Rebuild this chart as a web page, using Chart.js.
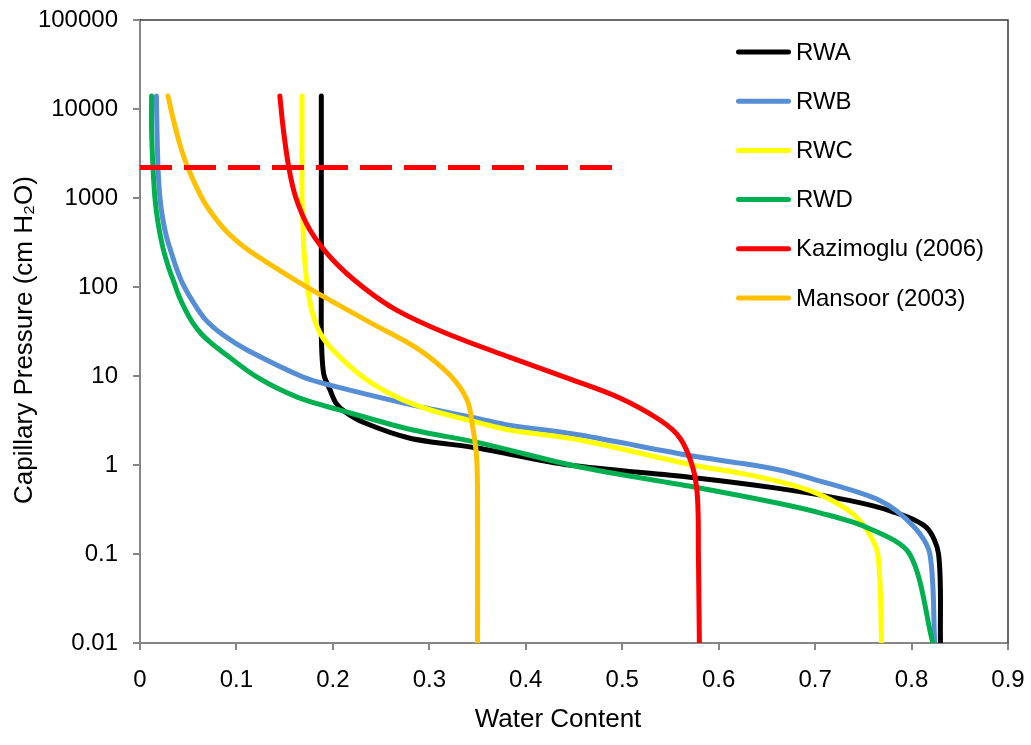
<!DOCTYPE html>
<html>
<head>
<meta charset="utf-8">
<title>Capillary Pressure vs Water Content</title>
<script src="https://cdn.jsdelivr.net/npm/chart.js@4.4.1/dist/chart.umd.min.js"></script>
<style>
  html, body { margin: 0; padding: 0; background: #ffffff; }
  #wrap { width: 1031px; height: 745px; position: relative; }
</style>
</head>
<body>
<div id="wrap"><canvas id="chart" width="1031" height="745"></canvas></div>
<script>
// Axis ticks
const xTickValues = [0, 0.1, 0.2, 0.3, 0.4, 0.5, 0.6, 0.7, 0.8, 0.9];
const xTickLabels = ['0', '0.1', '0.2', '0.3', '0.4', '0.5', '0.6', '0.7', '0.8', '0.9'];
const yTickValues = [0.01, 0.1, 1, 10, 100, 1000, 10000, 100000];
const yTickLabels = ['0.01', '0.1', '1', '10', '100', '1000', '10000', '100000'];

// Retention curves: water content and capillary pressure (cm H2O)
const rwaWater    = [0.188, 0.188, 0.188, 0.188, 0.189, 0.191, 0.197, 0.203, 0.212, 0.232, 0.28, 0.35, 0.445, 0.57, 0.66, 0.735, 0.78, 0.815, 0.828, 0.83];
const rwaPressure = [14000, 1000, 100, 30, 15, 10, 7, 5, 4, 3, 2, 1.55, 1.0, 0.73, 0.55, 0.4, 0.3, 0.2, 0.1, 0.01];

const rwbWater    = [0.017, 0.0176, 0.0187, 0.0207, 0.0238, 0.0275, 0.0316, 0.0373, 0.0425, 0.0477, 0.0539, 0.0674, 0.086, 0.111, 0.169, 0.197, 0.283, 0.352, 0.383, 0.456, 0.573, 0.622, 0.663, 0.691, 0.767, 0.803, 0.819, 0.824];
const rwbPressure = [14000, 5800, 2170, 1000, 566, 365, 260, 168, 120, 92.5, 71, 43.6, 29, 19.6, 9.75, 7.9, 4.7, 3.3, 2.8, 2.17, 1.26, 1.05, 0.88, 0.73, 0.40, 0.2, 0.1, 0.01];

const rwcWater    = [0.168, 0.168, 0.168, 0.169, 0.170, 0.173, 0.178, 0.187, 0.200, 0.231, 0.266, 0.301, 0.352, 0.383, 0.456, 0.573, 0.622, 0.663, 0.702, 0.736, 0.753, 0.765, 0.769];
const rwcPressure = [14000, 3000, 1000, 500, 260, 115, 55, 30, 19.6, 9.75, 5.8, 4.15, 2.97, 2.47, 1.91, 1.0, 0.81, 0.65, 0.48, 0.30, 0.19, 0.1, 0.01];

const rwdWater    = [0.012, 0.012, 0.0135, 0.0155, 0.0187, 0.0238, 0.0295, 0.0347, 0.0404, 0.0472, 0.0544, 0.0632, 0.0736, 0.0829, 0.121, 0.163, 0.218, 0.283, 0.352, 0.456, 0.573, 0.663, 0.705, 0.753, 0.798, 0.822];
const rwdPressure = [14000, 5800, 2170, 1000, 524, 274, 168, 117, 79, 55, 40, 30, 23.5, 19.6, 9.75, 5.8, 3.84, 2.47, 1.77, 0.95, 0.57, 0.37, 0.29, 0.2, 0.1, 0.01];

const kazWater    = [0.145, 0.1487, 0.1544, 0.1617, 0.1762, 0.200, 0.231, 0.266, 0.318, 0.383, 0.449, 0.497, 0.539, 0.560, 0.573, 0.578, 0.579, 0.580];
const kazPressure = [14000, 5800, 2170, 1000, 437, 201, 100, 55, 30, 16.3, 9.0, 5.7, 3.2, 2.0, 0.95, 0.44, 0.1, 0.01];

const manWater    = [0.029, 0.0347, 0.0415, 0.0497, 0.0642, 0.0756, 0.0902, 0.1067, 0.1244, 0.1606, 0.1834, 0.2383, 0.287, 0.321, 0.339, 0.345, 0.349, 0.350, 0.350];
const manPressure = [14000, 7520, 3950, 2170, 1000, 644, 415, 289, 212, 120, 86, 40, 20.6, 10.3, 5.4, 2.67, 1.23, 0.4, 0.01];

// Horizontal reference level
const refWater    = [0, 0.5];
const refPressure = [2200, 2200];

const seriesNames  = ['RWA', 'RWB', 'RWC', 'RWD', 'Kazimoglu (2006)', 'Mansoor (2003)'];
const seriesColors = ['#000000', '#558ED5', '#FFFF00', '#00B050', '#FF0000', '#FFC000'];
const seriesTension = [0.3, 0.3, 0.3, 0.3, 0.35, 0.35];
const seriesWater    = [rwaWater, rwbWater, rwcWater, rwdWater, kazWater, manWater];
const seriesPressure = [rwaPressure, rwbPressure, rwcPressure, rwdPressure, kazPressure, manPressure];

const FONT = "'Liberation Sans', Arial, Helvetica, sans-serif";

function toPoints(xs, ys) {
  return xs.map((x, i) => ({ x: x, y: ys[i] }));
}

const datasets = seriesNames.map((name, i) => ({
  label: name,
  data: toPoints(seriesWater[i], seriesPressure[i]),
  borderColor: seriesColors[i],
  backgroundColor: seriesColors[i],
  borderWidth: 5,
  borderCapStyle: 'round',
  borderJoinStyle: 'round',
  pointRadius: 0,
  tension: seriesTension[i],
  fill: false,
  order: seriesNames.length - i + 1
}));

datasets.push({
  label: 'reference',
  data: toPoints(refWater, refPressure),
  borderColor: '#FF0000',
  borderWidth: 5,
  borderDash: [32, 12],
  borderCapStyle: 'butt',
  pointRadius: 0,
  tension: 0,
  fill: false,
  order: 0
});

// Frame on the top and right of the plot area
const framePlugin = {
  id: 'frame',
  afterDraw(chart) {
    const { ctx, chartArea: a } = chart;
    ctx.save();
    ctx.strokeStyle = '#3a3a3a';
    ctx.lineWidth = 1.5;
    ctx.beginPath();
    ctx.moveTo(a.left, a.top);
    ctx.lineTo(a.right, a.top);
    ctx.lineTo(a.right, a.bottom);
    ctx.stroke();
    ctx.restore();
  }
};

// Legend drawn inside the plot area, one row per curve
const legendPlugin = {
  id: 'insideLegend',
  afterDraw(chart) {
    const { ctx } = chart;
    ctx.save();
    ctx.font = '24px ' + FONT;
    ctx.textBaseline = 'middle';
    ctx.textAlign = 'left';
    seriesNames.forEach((name, i) => {
      const y = 52 + i * 49.2;
      ctx.strokeStyle = seriesColors[i];
      ctx.lineWidth = 5;
      ctx.lineCap = 'round';
      ctx.beginPath();
      ctx.moveTo(738.5, y);
      ctx.lineTo(788.5, y);
      ctx.stroke();
      ctx.fillStyle = '#000000';
      ctx.fillText(name, 796, y + 1);
    });
    ctx.restore();
  }
};

// Axis titles
const titlePlugin = {
  id: 'axisTitles',
  afterDraw(chart) {
    const { ctx } = chart;
    ctx.save();
    ctx.fillStyle = '#000000';
    ctx.font = '26px ' + FONT;
    ctx.textAlign = 'center';
    ctx.textBaseline = 'middle';
    ctx.fillText('Water Content', 558, 720);
    ctx.translate(25, 340);
    ctx.rotate(-Math.PI / 2);
    ctx.fillText('Capillary Pressure (cm H\u2082O)', 0, 0);
    ctx.restore();
  }
};

new Chart(document.getElementById('chart'), {
  type: 'line',
  data: { datasets: datasets },
  plugins: [framePlugin, legendPlugin, titlePlugin],
  options: {
    responsive: false,
    animation: false,
    devicePixelRatio: 1,
    layout: { padding: { left: 0, top: 20, right: 23, bottom: 0 } },
    plugins: {
      legend: { display: false },
      tooltip: { enabled: false },
      title: { display: false }
    },
    scales: {
      x: {
        type: 'linear',
        position: 'bottom',
        min: 0,
        max: 0.9,
        afterBuildTicks(scale) { scale.ticks = xTickValues.map(v => ({ value: v })); },
        afterFit(scale) {
          scale.height = 102;
          scale.paddingLeft = 0;
          scale.paddingRight = 0;
        },
        ticks: {
          autoSkip: false,
          maxRotation: 0,
          padding: 16,
          color: '#000000',
          font: { family: FONT, size: 24 },
          callback: (v, i) => xTickLabels[i]
        },
        grid: {
          drawOnChartArea: false,
          drawTicks: true,
          tickLength: 7,
          color: '#868686',
          lineWidth: 2
        },
        border: { display: true, color: '#868686', width: 2 }
      },
      y: {
        type: 'logarithmic',
        position: 'left',
        min: 0.01,
        max: 100000,
        afterBuildTicks(scale) { scale.ticks = yTickValues.map(v => ({ value: v })); },
        afterFit(scale) {
          scale.width = 140;
          scale.paddingTop = 0;
          scale.paddingBottom = 0;
        },
        ticks: {
          autoSkip: false,
          padding: 15,
          color: '#000000',
          font: { family: FONT, size: 24 },
          callback: (v, i) => yTickLabels[i]
        },
        grid: {
          drawOnChartArea: false,
          drawTicks: true,
          tickLength: 7,
          color: '#868686',
          lineWidth: 2
        },
        border: { display: true, color: '#868686', width: 2 }
      }
    }
  }
});
</script>
</body>
</html>
